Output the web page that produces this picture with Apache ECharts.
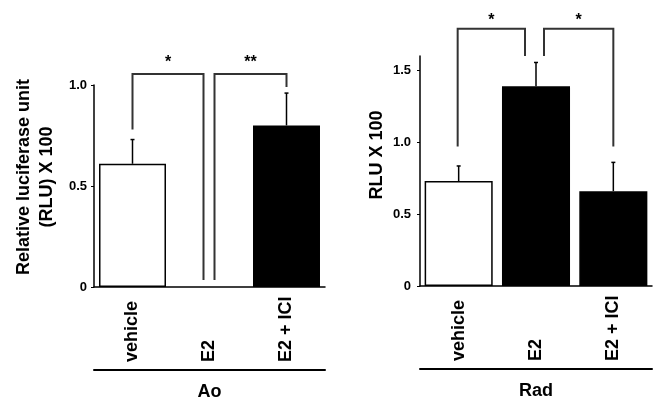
<!DOCTYPE html>
<html>
<head>
<meta charset="utf-8">
<script src="https://cdn.jsdelivr.net/npm/echarts@6/dist/echarts.min.js"></script>
<style>html,body{margin:0;padding:0;background:#fff;}#c{width:662px;height:408px;}</style>
</head>
<body>
<div id="c"></div>
<script>
// ---- data ----
const categories = ['vehicle', 'E2', 'E2 + ICI'];
const aoMean = [0.61, null, 0.80];
const aoSem = [0.12, null, 0.16];
const radMean = [0.73, 1.39, 0.66];
const radSem = [0.105, 0.165, 0.20];
const aoTicks = [0, 0.5, 1.0];
const radTicks = [0, 0.5, 1.0, 1.5];
const groupNames = ['Ao', 'Rad'];
// brackets: [fromIndex, toIndex, yStart, yTop, yEnd, label]
const aoBrackets = [[0, 1, 0.78, 1.055, 0.035, '*'], [1, 2, 0.035, 1.055, 0.99, '**']];
const radBrackets = [[0, 1, 0.97, 1.79, 1.60, '*'], [1, 2, 1.60, 1.79, 0.97, '*']];

// ---- styles ----
const FONT = "'Liberation Sans', Arial, sans-serif";
const fillFor = ['#ffffff', '#000000', '#000000'];
const bracketOffsets = { ao: [[0, -6], [5, 0]], rad: [[-1, -11], [8, 0]] };
const starGap = { ao: 11, rad: 8 };

const fmt = v => (v === 0 ? '0' : v.toFixed(1));

function barData(means) {
  return means.map((v, i) => v == null ? '-' : {
    value: v,
    itemStyle: { color: fillFor[i], borderColor: '#000', borderWidth: 1.5 }
  });
}
function errData(means, sems) {
  return means.map((v, i) => v == null ? [i, '-', '-'] : [i, v, v + sems[i]]);
}
function errSeries(means, sems, idx) {
  return {
    type: 'custom', xAxisIndex: idx * 2, yAxisIndex: idx, z: 5,
    data: errData(means, sems),
    renderItem: function (params, api) {
      const v = api.value(1);
      if (isNaN(v)) return null;
      const a = api.coord([api.value(0), v]);
      const b = api.coord([api.value(0), api.value(2)]);
      return { type: 'group', children: [
        { type: 'line', shape: { x1: a[0], y1: a[1], x2: b[0], y2: b[1] }, style: { stroke: '#000', lineWidth: 1.5 } },
        { type: 'line', shape: { x1: b[0] - 2, y1: b[1], x2: b[0] + 2, y2: b[1] }, style: { stroke: '#000', lineWidth: 1.5 } }
      ]};
    }
  };
}
function bracketSeries(brackets, idx, key) {
  return {
    type: 'custom', xAxisIndex: idx * 2, yAxisIndex: idx, z: 6,
    data: brackets.map(b => b.slice(0, 5)),
    renderItem: function (params, api) {
      const off = bracketOffsets[key][params.dataIndex];
      const label = brackets[params.dataIndex][5];
      const p1 = api.coord([api.value(0), api.value(2)]);
      const p2 = api.coord([api.value(0), api.value(3)]);
      const p3 = api.coord([api.value(1), api.value(3)]);
      const p4 = api.coord([api.value(1), api.value(4)]);
      const x1 = p1[0] + off[0], x2 = p3[0] + off[1];
      return { type: 'group', children: [
        { type: 'polyline', shape: { points: [[x1, p1[1]], [x1, p2[1]], [x2, p3[1]], [x2, p4[1]]] },
          style: { stroke: '#333', lineWidth: 2, fill: null } },
        { type: 'text', style: { text: label, x: (x1 + x2) / 2, y: p2[1] - starGap[key],
          align: 'center', verticalAlign: 'middle', fontSize: 16, fontWeight: 'bold', fontFamily: FONT, fill: '#000' } }
      ]};
    }
  };
}

function xAxisMain(grid) {
  return {
    gridIndex: grid, type: 'category', data: categories, boundaryGap: true,
    axisLine: { lineStyle: { color: '#000', width: 1.5 } },
    axisTick: { alignWithLabel: true, length: 3, lineStyle: { color: '#000', width: 1 } },
    axisLabel: { rotate: 90, align: 'left', verticalAlign: 'middle', margin: 75, interval: 0,
      fontSize: 18, fontWeight: 'bold', fontFamily: FONT, color: '#000' },
    splitLine: { show: false }
  };
}
function xAxisGroup(grid, name) {
  return {
    gridIndex: grid, type: 'category', data: categories, position: 'bottom', offset: 83,
    axisLine: { lineStyle: { color: '#000', width: 2 } },
    axisTick: { show: false }, axisLabel: { show: false }, splitLine: { show: false },
    name: name, nameLocation: 'middle', nameGap: 13,
    nameTextStyle: { fontSize: 18, fontWeight: 'bold', fontFamily: FONT, color: '#000' }
  };
}
function yAxis(grid, max, ticks, name, gap, pad, margin) {
  return {
    gridIndex: grid, type: 'value', min: 0, max: max, interval: 0.5,
    axisLine: { show: true, lineStyle: { color: '#000', width: 1.5 } },
    axisTick: { show: true, length: 3, customValues: ticks, lineStyle: { color: '#000', width: 1 } },
    axisLabel: { customValues: ticks, formatter: fmt, margin: margin,
      fontSize: 13, fontWeight: 'bold', fontFamily: FONT, color: '#000' },
    splitLine: { show: false },
    name: name, nameLocation: 'middle', nameRotate: 90, nameGap: gap,
    nameTextStyle: { fontSize: 18, fontWeight: 'bold', fontFamily: FONT, color: '#000', lineHeight: 23, padding: [0, 0, 0, pad] }
  };
}

const chart = echarts.init(document.getElementById('c'), null, { renderer: 'canvas' });
chart.setOption({
  animation: false,
  backgroundColor: '#fff',
  grid: [
    { left: 94, top: 85, width: 231, height: 202 },
    { left: 420, top: 56, width: 232, height: 230 }
  ],
  xAxis: [xAxisMain(0), xAxisGroup(0, groupNames[0]), xAxisMain(1), xAxisGroup(1, groupNames[1])],
  yAxis: [
    yAxis(0, 1.0, aoTicks, 'Relative luciferase unit\n(RLU) X 100', 35, 18, 7),
    yAxis(1, 1.6, radTicks, 'RLU X 100', 30, 32, 9)
  ],
  series: [
    { type: 'bar', xAxisIndex: 0, yAxisIndex: 0, barWidth: '87%', data: barData(aoMean) },
    errSeries(aoMean, aoSem, 0),
    bracketSeries(aoBrackets, 0, 'ao'),
    { type: 'bar', xAxisIndex: 2, yAxisIndex: 1, barWidth: '88%', data: barData(radMean) },
    errSeries(radMean, radSem, 1),
    bracketSeries(radBrackets, 1, 'rad')
  ]
});
</script>
</body>
</html>
